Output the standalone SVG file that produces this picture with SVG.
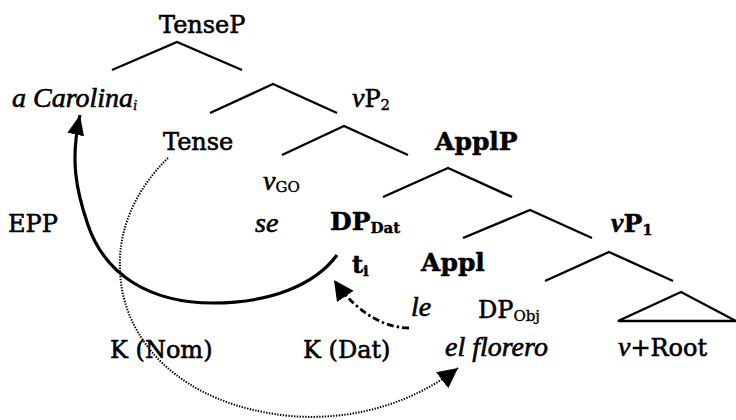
<svg xmlns="http://www.w3.org/2000/svg" width="736" height="420" viewBox="0 0 736 420">
<defs>
<style>
text{font-family:"DejaVu Serif","Liberation Serif",serif;font-size:24px;fill:#000;stroke:#000;stroke-width:0.6}
.b{font-weight:bold;stroke-width:0.5}
.i{font-family:"Liberation Serif","Times New Roman",serif;font-style:italic;font-size:28px}
.s{font-size:15px;stroke-width:0.4}
.br{fill:none;stroke:#000;stroke-width:2.4;stroke-linejoin:miter}
.solid{fill:none;stroke:#000;stroke-width:3.2}
.dot{fill:none;stroke:#000;stroke-width:2;stroke-dasharray:1.4 1.4}
.dd{fill:none;stroke:#000;stroke-width:2.8;stroke-dasharray:7 3 2.5 3}
</style>
<marker id="ah" markerUnits="userSpaceOnUse" markerWidth="22" markerHeight="20" refX="20" refY="8.5" orient="auto">
<path d="M0,0 L20,8.5 L0,17 z" fill="#000"/>
</marker>
<marker id="ah2" markerUnits="userSpaceOnUse" markerWidth="22" markerHeight="22" refX="20" refY="10" orient="auto">
<path d="M0,0 L20,10 L0,20 z" fill="#000"/>
</marker>
</defs>

<g id="branches">
<polyline class="br" points="112,70 177,42 242,70"/>
<polyline class="br" points="210,113 273,84 337,113"/>
<polyline class="br" points="282,155 344,126 408,155"/>
<polyline class="br" points="383,197 448,168 512,197"/>
<polyline class="br" points="463,238 530,210 592,238"/>
<polyline class="br" points="545,281 609,252 673,281"/>
<polygon class="br" points="618,321 681,292 736,321"/>
</g>

<g id="TenseP"><text x="159" y="33">TenseP</text></g>
<g id="aCarolina"><text class="i" x="12" y="107">a Carolina<tspan class="s" dy="3">i</tspan></text></g>
<g id="vP2"><text x="352" y="107"><tspan class="i">v</tspan>P<tspan class="s" dy="3">2</tspan></text></g>
<g id="Tense"><text x="163" y="150">Tense</text></g>
<g id="ApplP"><text class="b" x="435" y="150" style="font-size:25px">ApplP</text></g>
<g id="vGO"><text x="263" y="190"><tspan class="i">v</tspan><tspan class="s" dy="2">GO</tspan></text></g>
<g id="se"><text class="i" x="255" y="232">se</text></g>
<g id="DPDat"><text class="b" x="330" y="230" style="font-size:25px">DP<tspan class="s" dy="3">Dat</tspan></text></g>
<g id="EPP"><text x="8" y="232">EPP</text></g>
<g id="vP1"><text class="b" x="611" y="232" style="font-size:25px"><tspan class="i">v</tspan>P<tspan class="s" dy="3">1</tspan></text></g>
<g id="ti"><text class="b" x="352" y="273">t<tspan class="s" dy="3">i</tspan></text></g>
<g id="Appl"><text class="b" x="421" y="271" style="font-size:25px">Appl</text></g>
<g id="le"><text class="i" x="411" y="316">le</text></g>
<g id="DPObj"><text x="478" y="318">DP<tspan class="s" dy="3">Obj</tspan></text></g>
<g id="KNom"><text x="110" y="358">K (Nom)</text></g>
<g id="KDat"><text x="303" y="358">K (Dat)</text></g>
<g id="elflorero"><text class="i" x="445" y="356">el florero</text></g>
<g id="vRoot"><text x="618" y="356"><tspan class="i">v</tspan>+Root</text></g>

<g id="connectors">
<path class="solid" d="M337,255 C315,285 270,303 213,303 C150,303 105,275 88,225 C76,190 70,160 80,115" marker-end="url(#ah)"/>
<path class="dot" d="M168,158 C135,190 118,230 120,270 C122,340 180,405 290,416 C350,421 410,405 458,368" marker-end="url(#ah2)"/>
<path class="dd" d="M409,328 C390,328 360,318 334,280" marker-end="url(#ah2)"/>
</g>
</svg>
